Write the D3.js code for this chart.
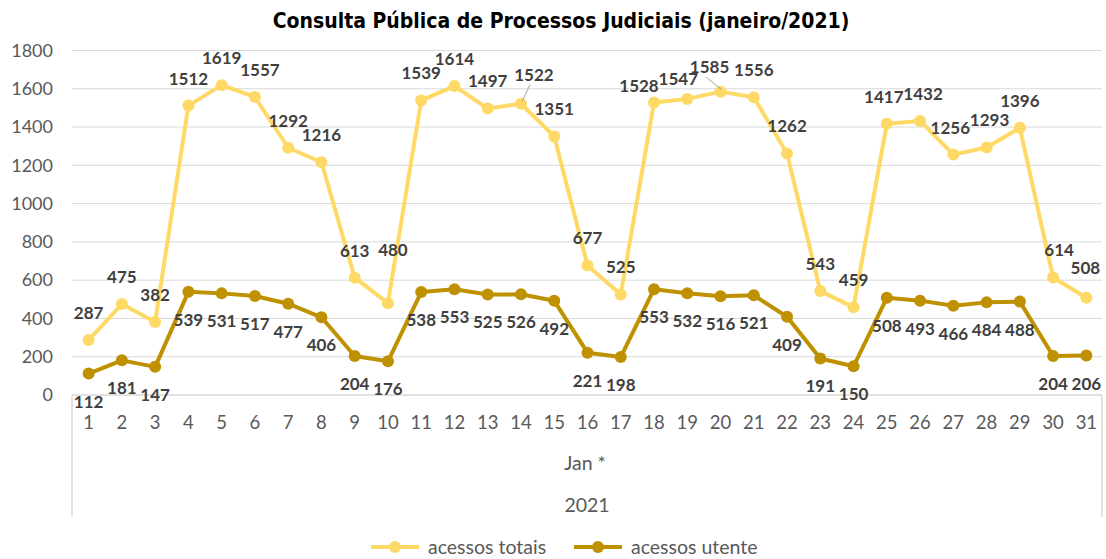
<!DOCTYPE html>
<html>
<head>
<meta charset="utf-8">
<script src="https://cdn.jsdelivr.net/npm/d3@7"></script>
<style>
  body { margin: 0; background: #fff; }
  svg text { font-family: Lato, "Open Sans", sans-serif; }
</style>
</head>
<body>
<div id="chart"></div>
<script>
var days = d3.range(1, 32).map(String);
var totais = [287, 475, 382, 1512, 1619, 1557, 1292, 1216, 613, 480, 1539, 1614, 1497, 1522, 1351, 677,
  525, 1528, 1547, 1585, 1556, 1262, 543, 459, 1417, 1432, 1256, 1293, 1396, 614, 508];
var utente = [112, 181, 147, 539, 531, 517, 477, 406, 204, 176, 538, 553, 525, 526, 492, 221,
  198, 553, 532, 516, 521, 409, 191, 150, 508, 493, 466, 484, 488, 204, 206];
var yTicks = [0, 200, 400, 600, 800, 1000, 1200, 1400, 1600, 1800];
var monthLabel = "Jan *";
var yearLabel = "2021";
var titleText = "Consulta Pública de Processos Judiciais (janeiro/2021)";

var W = 1106, H = 559;
var svg = d3.select('#chart').append('svg')
  .attr('width', W)
  .attr('height', H);

var x = d3.scaleBand().domain(days).range([72, 1103]);
var y = d3.scaleLinear().domain([0, 1800]).range([395, 50.5]);
var cx = function (i) { return x(days[i]) + x.bandwidth() / 2; };

// title
svg.append('text')
  .attr('x', 561).attr('y', 28)
  .attr('text-anchor', 'middle')
  .style('font-family', '"DejaVu Sans Condensed", "DejaVu Sans", sans-serif')
  .style('font-weight', 'bold')
  .style('font-size', '21px')
  .attr('fill', '#000')
  .text(titleText);

// gridlines
svg.selectAll('line.grid').data(yTicks.slice(1))
  .enter().append('line')
  .attr('class', 'grid')
  .attr('x1', 72).attr('x2', 1102)
  .attr('y1', function (d) { return y(d); })
  .attr('y2', function (d) { return y(d); })
  .attr('stroke', '#d9d9d9').attr('stroke-width', 1);

// y axis labels
svg.selectAll('text.ytick').data(yTicks)
  .enter().append('text')
  .attr('class', 'ytick')
  .attr('x', 53)
  .attr('y', function (d) { return y(d); })
  .attr('dy', '0.35em')
  .attr('text-anchor', 'end')
  .attr('fill', '#595959')
  .style('font-size', '18px')
  .text(function (d) { return d; });

// x axis: baseline + side borders of the category area
svg.append('line')
  .attr('x1', 72).attr('x2', 1102).attr('y1', y(0)).attr('y2', y(0))
  .attr('stroke', '#d9d9d9').attr('stroke-width', 1.5);
[72, 1102].forEach(function (px) {
  svg.append('line')
    .attr('x1', px).attr('x2', px).attr('y1', y(0)).attr('y2', 517)
    .attr('stroke', '#d9d9d9').attr('stroke-width', 1.5);
});

svg.selectAll('text.xtick').data(days)
  .enter().append('text')
  .attr('class', 'xtick')
  .attr('x', function (d, i) { return cx(i); })
  .attr('y', 423)
  .attr('dy', '0.35em')
  .attr('text-anchor', 'middle')
  .attr('fill', '#595959')
  .style('font-size', '18.5px')
  .text(function (d) { return d; });

svg.append('text')
  .attr('x', 585).attr('y', 463).attr('dy', '0.35em')
  .attr('text-anchor', 'middle').attr('fill', '#595959')
  .style('font-size', '19.5px')
  .text(monthLabel);
svg.append('text')
  .attr('x', 587).attr('y', 505).attr('dy', '0.35em')
  .attr('text-anchor', 'middle').attr('fill', '#595959')
  .style('font-size', '19.5px')
  .text(yearLabel);

// series
var series = [
  { name: 'acessos totais', values: totais, color: '#ffd966', labelDy: -27 },
  { name: 'acessos utente', values: utente, color: '#bf9000', labelDy: 28 }
];

// manual label nudges (like Excel's dragged labels) : [dx, dy]
var nudges = {
  'acessos totais': { 5: [5, 0], 9: [5, -26], 13: [13, -2], 17: [-15, 10], 18: [-9, 7],
    19: [-11, 2], 24: [-3, 0], 25: [3, 0], 26: [-3, 0], 27: [3, 0], 29: [6, 0], 30: [-1, -3] },
  'acessos utente': {}
};
// little leader lines for labels pulled away from their points
var leaders = { 'acessos totais': [13, 19] };

var line = d3.line()
  .x(function (d, i) { return cx(i); })
  .y(function (d) { return y(d); });

series.forEach(function (s) {
  svg.append('path')
    .datum(s.values)
    .attr('d', line)
    .attr('fill', 'none')
    .attr('stroke', s.color)
    .attr('stroke-width', 4)
    .attr('stroke-linejoin', 'round');

  svg.selectAll(null).data(s.values)
    .enter().append('circle')
    .attr('cx', function (d, i) { return cx(i); })
    .attr('cy', function (d) { return y(d); })
    .attr('r', 6)
    .attr('fill', s.color);
});

series.forEach(function (s) {
  var nd = nudges[s.name];
  (leaders[s.name] || []).forEach(function (i) {
    var n = nd[i] || [0, 0];
    var lx = cx(i) + n[0], ly = y(s.values[i]) + s.labelDy + n[1];
    svg.append('line')
      .attr('x1', lx - 4).attr('y1', ly + 10)
      .attr('x2', cx(i) + 1).attr('y2', y(s.values[i]) - 2)
      .attr('stroke', '#a6a6a6').attr('stroke-width', 1);
  });

  svg.selectAll(null).data(s.values)
    .enter().append('text')
    .attr('x', function (d, i) { return cx(i) + (nd[i] ? nd[i][0] : 0); })
    .attr('y', function (d, i) { return y(d) + s.labelDy + (nd[i] ? nd[i][1] : 0); })
    .attr('dy', '0.35em')
    .attr('text-anchor', 'middle')
    .attr('fill', '#404040')
    .style('font-weight', 'bold')
    .style('font-size', '17px')
    .text(function (d) { return d; });
});

// legend
var legend = svg.append('g').attr('transform', 'translate(0,547)');
var legendX = [371, 574];
series.forEach(function (s, i) {
  var g = legend.append('g').attr('transform', 'translate(' + legendX[i] + ',0)');
  g.append('line').attr('x1', 0).attr('x2', 48).attr('y1', 0).attr('y2', 0)
    .attr('stroke', s.color).attr('stroke-width', 4);
  g.append('circle').attr('cx', 24).attr('cy', 0).attr('r', 6).attr('fill', s.color);
  g.append('text').attr('x', 57).attr('y', 0).attr('dy', '0.35em')
    .attr('fill', '#595959').style('font-size', '19.5px')
    .text(s.name);
});
</script>
</body>
</html>
